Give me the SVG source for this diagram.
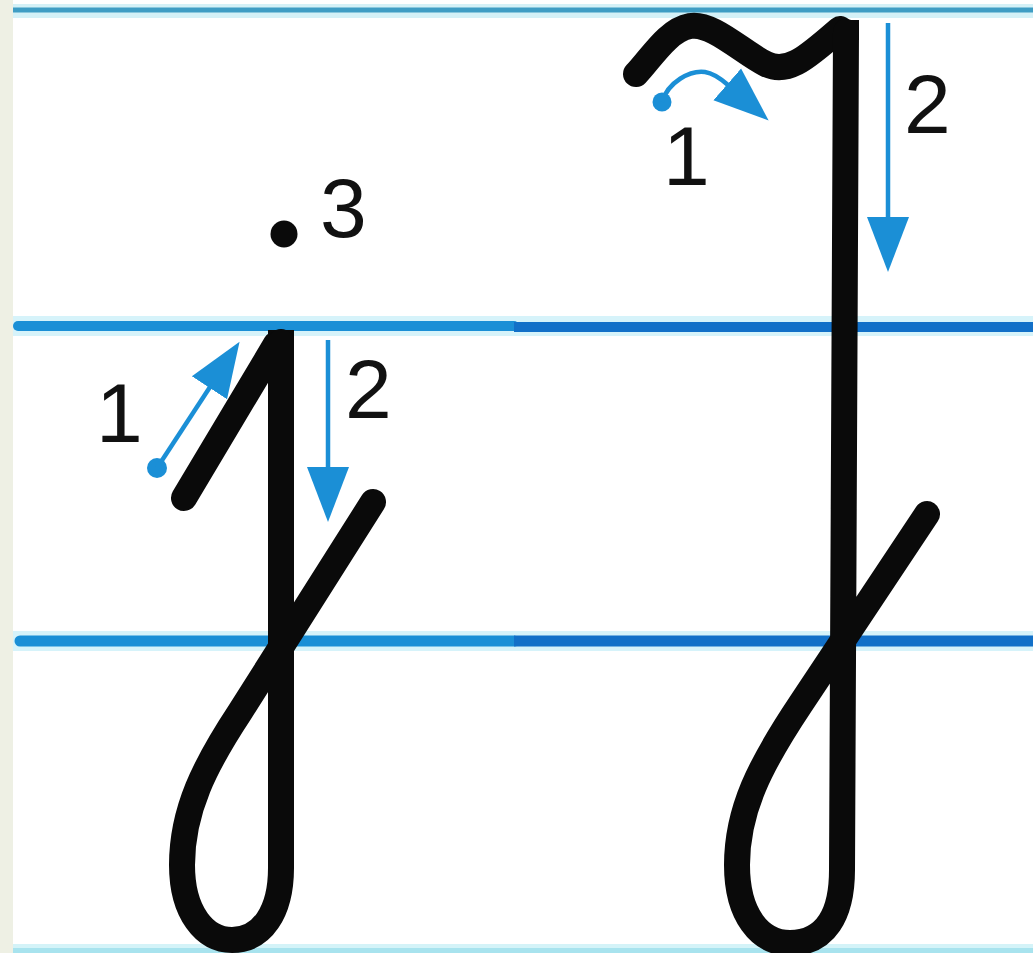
<svg xmlns="http://www.w3.org/2000/svg" width="1033" height="953" viewBox="0 0 1033 953">
  <style>
    .ink { fill: none; stroke: #0a0a0a; stroke-width: 26; stroke-linecap: round; stroke-linejoin: round; }
    .inkfill { fill: #0a0a0a; }
    .guide { fill: none; stroke: #1b8fd6; stroke-width: 4.5; stroke-linecap: butt; }
    .dot { fill: #1b8fd6; }
    .num { font-family: "Liberation Sans", Arial, sans-serif; font-size: 84px; fill: #111; }
  </style>
  <defs>
    <marker id="head" markerUnits="userSpaceOnUse" markerWidth="56" markerHeight="44" viewBox="0 0 56 44" refX="1" refY="22" orient="auto">
      <path d="M0 1 L55 22 L0 43 Z" fill="#1b8fd6"/>
    </marker>
  </defs>

  <!-- paper -->
  <rect x="0" y="0" width="1033" height="953" fill="#ffffff"/>
  <rect x="0" y="0" width="13" height="953" fill="#eef0e4"/>

  <!-- ruling -->
  <g id="ruling">
    <rect x="13" y="4" width="1020" height="14" fill="#d4f1f7"/>
    <rect x="13" y="7.5" width="1020" height="5" fill="#3f9dc4"/>
    <rect x="13" y="316" width="1020" height="20" fill="#d6f3fa"/>
    <line x1="18" y1="326" x2="514" y2="326" stroke="#1a8fd6" stroke-width="10" stroke-linecap="round"/>
    <line x1="514" y1="327" x2="1033" y2="327" stroke="#1270c8" stroke-width="10"/>
    <rect x="13" y="631" width="1020" height="20" fill="#d6f3fa"/>
    <line x1="20" y1="641" x2="514" y2="641" stroke="#1a8fd6" stroke-width="11" stroke-linecap="round"/>
    <line x1="514" y1="641" x2="1033" y2="641" stroke="#1270c8" stroke-width="11"/>
    <rect x="13" y="944" width="1020" height="9" fill="#d4f3f8"/>
    <rect x="13" y="948" width="1020" height="5" fill="#a8e3ee"/>
  </g>

  <!-- left letter -->
  <g id="letter-left">
    <path class="ink" d="M184 498 L276 344"/>
    <rect class="inkfill" x="268" y="330" width="26" height="20"/>
    <path class="ink" d="M373 502 L240 712 C205 765 182 810 182 865 C182 913 205 940 232 940 C262 940 281 912 281 868 L281 342"/>
    <circle class="dot" style="fill:#0a0a0a" cx="284" cy="234" r="13.5"/>
  </g>

  <!-- right letter -->
  <g id="letter-right">
    <path class="ink" d="M636 74 C652 57 668 30 690 26 C712 22 742 52 766 64 C790 76 812 52 840 29"/>
    <rect class="inkfill" x="833" y="20" width="26" height="20"/>
    <path class="ink" d="M927 514 L800 705 C760 765 737 810 737 865 C737 915 760 943 790 943 C825 943 842 915 842 870 L846 32"/>
  </g>

  <!-- stroke-order arrows -->
  <g id="connectors">
    <circle class="dot" cx="157" cy="468" r="10"/>
    <path class="guide" d="M157 468 L210 387" marker-end="url(#head)"/>
    <path class="guide" d="M328 340 L328 468" marker-end="url(#head)"/>
    <circle class="dot" cx="662" cy="102" r="9.5"/>
    <path class="guide" d="M662 102 C668 82 690 70 705 72 C712 73 720 78 728 85" stroke-width="5" marker-end="url(#head)"/>
    <path class="guide" d="M888 23 L888 218" marker-end="url(#head)"/>
  </g>

  <!-- labels -->
  <g id="labels">
    <text class="num" x="96" y="442">1</text>
    <text class="num" x="345" y="418">2</text>
    <text class="num" x="320" y="237">3</text>
    <text class="num" x="663" y="185">1</text>
    <text class="num" x="904" y="133">2</text>
  </g>
</svg>
